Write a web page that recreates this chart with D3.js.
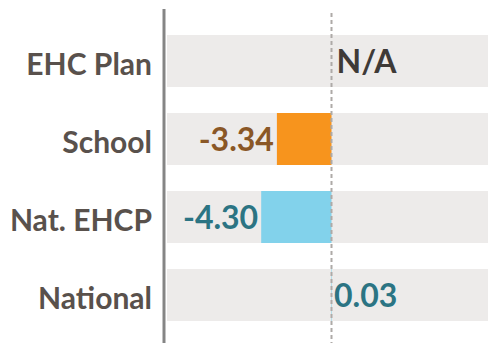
<!DOCTYPE html>
<html>
<head>
<meta charset="utf-8">
<script src="https://cdn.jsdelivr.net/npm/d3@7"></script>
<style>
  html, body { margin: 0; padding: 0; background: #ffffff; }
  svg { display: block; }
  text { font-family: Lato, "Open Sans", sans-serif; font-weight: 700; }
</style>
</head>
<body>
<svg id="chart" width="488" height="343"></svg>
<script>
// Progress scores by group
const categories = ["EHC Plan", "School", "Nat. EHCP", "National"];
const values = [null, -3.34, -4.30, 0.03];
const barColors = ["#f7941d", "#f7941d", "#82d2eb", "#82d2eb"];
const labelColors = ["#3e3a37", "#8a5726", "#2b7483", "#2b7483"];
const missingText = "N/A";

const width = 488, height = 343;
const svg = d3.select("#chart");

const x = d3.scaleLinear().domain([-10, 10]).range([168, 495]);
const y = d3.scaleBand()
  .domain(categories)
  .range([22, 334])
  .paddingInner(1 / 3)
  .paddingOuter(1 / 6);

const fmt = v => d3.format(".2f")(v).replace("\u2212", "-");

const rows = categories.map((c, i) => ({ cat: c, value: values[i], bar: barColors[i], label: labelColors[i] }));

// background bands
svg.append("g").selectAll("rect")
  .data(rows)
  .join("rect")
  .attr("x", x.range()[0] - 1)
  .attr("width", width - x.range()[0] + 1)
  .attr("y", d => y(d.cat))
  .attr("height", y.bandwidth())
  .attr("fill", "#edebea");

// bars
svg.append("g").selectAll("rect")
  .data(rows.filter(d => d.value !== null))
  .join("rect")
  .attr("x", d => Math.min(x(0), x(d.value)))
  .attr("width", d => Math.abs(x(d.value) - x(0)))
  .attr("y", d => y(d.cat))
  .attr("height", y.bandwidth())
  .attr("fill", d => d.bar);

// zero reference line
svg.append("line")
  .attr("x1", x(0)).attr("x2", x(0))
  .attr("y1", 13).attr("y2", height)
  .attr("stroke", "#aeaaa7")
  .attr("stroke-width", 2)
  .attr("stroke-dasharray", "4,3");

// value labels
svg.append("g").selectAll("text")
  .data(rows)
  .join("text")
  .attr("x", d => d.value === null ? x(0) + 5 : (d.value < 0 ? x(d.value) - 3 : x(d.value) + 2))
  .attr("y", d => y(d.cat) + y.bandwidth() / 2 + 12)
  .attr("text-anchor", d => d.value !== null && d.value < 0 ? "end" : "start")
  .attr("font-size", 32)
  .attr("fill", d => d.label)
  .text(d => d.value === null ? missingText : fmt(d.value));

// category axis
const yAxis = d3.axisLeft(y).tickSize(0).tickPadding(12);
const gAxis = svg.append("g")
  .attr("transform", `translate(${164},0)`)
  .call(yAxis);
gAxis.select(".domain").remove();
gAxis.selectAll("text")
  .attr("font-size", 30)
  .attr("font-family", "Lato, sans-serif")
  .attr("font-weight", 700)
  .attr("fill", "#59514c")
  .attr("dy", "0.45em");

svg.append("line")
  .attr("x1", 164).attr("x2", 164)
  .attr("y1", 9).attr("y2", height)
  .attr("stroke", "#858585")
  .attr("stroke-width", 3);
</script>
</body>
</html>
